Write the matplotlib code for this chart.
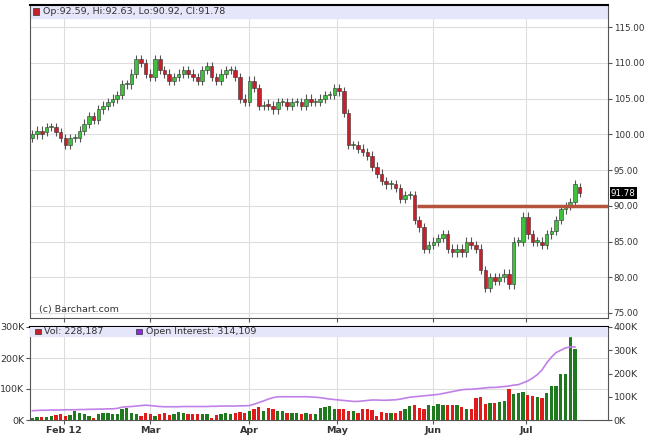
import matplotlib
matplotlib.use("Agg")
import matplotlib.pyplot as plt
from matplotlib.patches import Rectangle

closes = [100.0,100.5,100.0,101.0,101.0,100.3,99.5,98.5,99.5,99.5,100.5,101.5,102.5,102.0,103.5,104.0,104.5,105.0,105.5,107.0,
          107.0,108.5,110.5,110.0,108.5,108.0,110.5,109.0,108.5,107.5,108.0,108.5,109.0,108.5,108.0,107.5,109.0,109.5,108.0,107.5,
          108.5,109.0,109.0,108.0,105.0,104.5,107.5,106.5,104.0,104.0,104.0,103.5,104.5,104.5,104.0,104.5,104.5,104.0,105.0,104.5,
          104.5,105.0,105.5,105.5,106.5,106.0,103.0,98.5,98.5,98.0,97.5,97.0,95.5,94.5,93.5,93.0,93.0,92.5,91.0,91.5,
          91.5,88.0,87.0,84.0,84.5,85.0,85.5,86.0,84.0,83.5,84.0,83.5,85.0,84.5,84.0,81.0,78.5,80.0,79.5,80.0,
          80.5,79.0,85.0,85.0,88.5,86.0,85.0,85.0,84.5,86.0,86.5,88.0,89.5,90.0,90.5,93.0,91.78]
opens = [99.5,100.0,100.5,100.3,101.0,101.0,100.3,99.5,98.5,99.5,99.5,100.5,101.5,102.5,102.0,103.5,104.0,104.5,105.0,105.5,
         107.0,107.0,108.5,110.5,110.0,108.5,108.0,110.5,109.0,108.5,107.5,108.0,108.5,109.0,108.5,108.0,107.5,109.0,109.5,108.0,
         107.5,108.5,109.0,109.0,108.0,105.0,104.5,107.5,106.5,104.0,104.3,104.0,103.5,104.5,104.5,104.0,104.5,104.5,104.0,105.0,
         104.5,104.5,105.0,105.5,105.5,106.5,106.0,103.0,98.5,98.5,98.0,97.5,97.0,95.5,94.5,93.5,93.0,93.0,92.5,91.0,
         91.5,91.5,88.0,87.0,84.0,84.5,85.0,85.5,86.0,84.0,83.5,84.0,83.5,85.0,84.5,84.0,81.0,78.5,80.0,79.5,
         80.0,80.5,79.0,85.0,85.0,88.5,86.0,85.0,85.0,84.5,86.0,86.5,88.0,89.5,90.0,90.5,92.59]
volumes = [8,10,10,9,12,15,18,14,16,28,22,18,14,6,20,24,22,20,18,36,
           40,22,18,14,22,18,14,20,24,16,18,26,22,20,18,20,18,20,6,16,
           20,22,18,24,25,24,28,36,42,30,40,36,28,28,24,22,24,20,24,18,
           20,40,42,44,36,34,35,30,28,24,34,34,32,14,26,24,24,22,30,34,
           44,48,40,36,48,46,52,50,50,50,50,42,36,36,72,74,52,56,54,58,
           62,100,84,88,90,80,76,74,72,86,110,110,148,150,290,228]
oi = [40,41,42,42,43,43,43,44,44,44,45,45,46,46,47,47,48,48,50,55,
      57,58,60,62,64,62,60,58,57,57,57,57,58,58,58,58,58,58,59,59,
      60,60,60,60,61,61,62,68,75,82,90,96,100,100,100,100,100,100,100,99,
      98,96,93,90,88,86,84,82,80,80,82,84,86,86,85,85,86,87,90,94,
      98,100,102,104,106,108,110,114,118,122,126,130,132,132,134,136,138,140,140,142,
      144,146,150,152,160,168,180,195,215,245,270,290,300,310,314,314]
tick_pos = [6.6, 25, 46, 64.5, 85, 104.6]
tick_labels = ["Feb 12", "Mar", "Apr", "May", "Jun", "Jul"]
resistance = 90.0

n = len(closes)
vol_n = len(volumes)
highs = [max(o, c) + 0.6 for o, c in zip(opens, closes)]
lows = [min(o, c) - 0.6 for o, c in zip(opens, closes)]

G = "#3ec13e"; R = "#c8202a"; GV = "#1f7a1f"; RV = "#e01b1b"
FS = 6.8
fig = plt.figure(figsize=(6.45, 4.37), dpi=100)
ax = fig.add_axes([30/645, 1-318/437, 578/645, 313/437])
vax = fig.add_axes([30/645, 1-420/437, 578/645, 93/437])
xmin, xmax = -0.5, 122
for a in (ax, vax):
    a.set_xlim(xmin, xmax)
    a.set_xticks(tick_pos)
    a.grid(True, color="#dddddd", lw=0.8)
    a.set_axisbelow(True)
    for s in a.spines.values():
        s.set_color("#555555")
    a.spines['top'].set_color("black"); a.spines['top'].set_linewidth(1.5)

for i in range(n):
    o, c = opens[i], closes[i]
    col = G if c >= o else R
    ax.vlines(i, lows[i], highs[i], color="#555555", lw=0.8, zorder=2)
    ax.add_patch(Rectangle((i-0.38, min(o, c)), 0.76, max(abs(c-o), 0.15),
                           facecolor=col, edgecolor="#333333", lw=0.4, zorder=3))
ax.set_ylim(74.3, 118.1)
ax.yaxis.tick_right()
yt = [75,80,85,90,95,100,105,110,115]
ax.set_yticks(yt)
ax.set_yticklabels([f"{v:.2f}" for v in yt], fontsize=6.3, color="#333")
ax.set_xticklabels([])
ax.tick_params(length=3, pad=1, color="#555555")
ax.hlines(resistance, 81.5, xmax, color="#b5533c", lw=2.5, zorder=4)
ax.axhspan(116.3, 118.1, color="#e6e6fa", zorder=1)
ax.add_patch(Rectangle((0.2, 116.7), 1.3, 1.0, facecolor=R, edgecolor="#333", lw=0.5, zorder=5))
ax.text(2.2, 117.2, "Op:92.59, Hi:92.63, Lo:90.92, Cl:91.78", fontsize=FS, va="center", color="#333")
ax.text(1.5, 75.2, "(c) Barchart.com", fontsize=FS, color="#333")
ax.text(xmax+0.6, closes[-1], f"{closes[-1]:.2f}", fontsize=6.3, color="white", va="center",
        bbox=dict(facecolor="black", edgecolor="none", pad=0.8), clip_on=False)

vcols = [GV if closes[i] >= opens[i] else RV for i in range(vol_n)]
vax.bar(range(vol_n), volumes, width=0.7, color=vcols, zorder=3)
vax.set_ylim(0, 300)
vax.set_yticks([0,100,200,300])
vax.set_yticklabels(["0K","100K","200K","300K"], fontsize=FS, color="#333")
vax.set_xticklabels(tick_labels, fontsize=FS, fontweight="bold", color="#333")
vax.tick_params(length=3, pad=1, color="#555555")
oax = vax.twinx()
oax.set_ylim(0, 400)
oax.set_yticks([0,100,200,300,400])
oax.set_yticklabels(["0K","100K","200K","300K","400K"], fontsize=FS, color="#333")
oax.tick_params(length=3, pad=1, color="#555555")
oax.plot(range(len(oi)), oi, color="#c080e8", lw=1.2, zorder=4)
oax.axhspan(362, 400, color="#e6e6fa", zorder=0)
oax.add_patch(Rectangle((0.5, 370), 1.3, 22, facecolor=R, edgecolor="#333", lw=0.5, zorder=5))
oax.text(2.4, 381, "Vol: 228,187", fontsize=FS, va="center", color="#333")
oax.add_patch(Rectangle((22, 370), 1.3, 22, facecolor="#8a2be2", edgecolor="#333", lw=0.5, zorder=5))
oax.text(24, 381, "Open Interest: 314,109", fontsize=FS, va="center", color="#333")
for s in oax.spines.values():
    s.set_visible(False)
fig.savefig("out.png", dpi=100)
